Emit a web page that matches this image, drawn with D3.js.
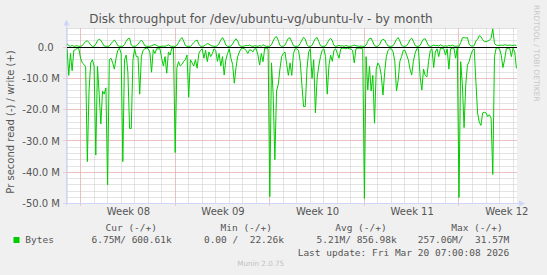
<!DOCTYPE html>
<html>
<head>
<meta charset="utf-8">
<script src="https://cdn.jsdelivr.net/npm/d3@7"></script>
<style>
  body { margin: 0; background: #f0f0f0; }
  svg text { font-family: "DejaVu Sans", sans-serif; fill: #555; }
  svg text.mono { font-family: "DejaVu Sans Mono", monospace; white-space: pre; }
</style>
</head>
<body>
<svg id="chart" width="547" height="275"></svg>
<script>
// samples every 3 hours starting Feb 15 2026 00:00 (UTC), values in millions of bytes/s
const startTime = Date.UTC(2026, 1, 15, 0, 0);
const stepMs = 3 * 3600 * 1000;

// read is drawn negative
const readM = [
  -0.5, -9, -2, -7.5, -1, -0.8, -0.3, -0.5,
  -3.5, -5, -5.5, -6.2, -36.6, -14, -5, -4,
  -6, -34.5, -6, -15, -24.5, -14, -15, -13,
  -44, -4, -3.5, -5, -7, -3.5, -1, -0.3,
  -2, -36.6, -4, -2.5, -8, -26, -26, -4,
  -0.5, -3, -3, -15, -3, -1, -0.5, -0.3,
  -0.5, -1.5, -8, -0.8, -2, -0.5, -0.5, -0.5,
  -3.5, -6, -3, -8.3, -1.5, -2.5, -0.3, -0.3,
  -33.7, -6.7, -4.6, -6, -5.5, -4.5, -4, -2.5,
  -16, -4, -5, -6, -4, -6.7, -2, -1,
  -0.5, -3.5, -1, -4.6, -1.5, -3, -2, -0.5,
  -1, -4.5, -2, -6, -3, -8.9, -4, -2,
  -0.5, -3.5, -5.5, -11.5, -6.5, -3, -1.5, -0.5,
  -0.3, -0.5, -1, -2, -0.8, -1, -1.5, -0.5,
  -0.5, -2.5, -5.7, -2, -4.6, -0.3, -0.3, -0.5,
  -47.8, -5, -15, -36, -14, -12, -7, -3,
  -2, -1.5, -5.5, -9, -5, -9, -2, -0.5,
  -0.5, -1, -4.5, -12, -19, -19, -7, -1.5,
  -0.5, -10, -4, -21, -10, -6, -3, -1,
  -0.5, -3, -15, -6, -2.5, -4.5, -1, -0.5,
  -2, -3.5, -0.5, -0.3, -0.3, -0.5, -0.3, -0.5,
  -0.5, -1, -5, -0.5, -0.3, -0.3, -0.3, -0.5,
  -48.4, -3, -13.7, -6, -14, -9, -24.3, -7,
  -5, -6, -9, -15.3, -8, -3, -1, -0.5,
  -0.5, -1.5, -4.5, -14, -10.5, -4.5, -3, -1,
  -1, -2.5, -4, -7, -8.9, -4.5, -2, -0.5,
  -0.5, -9.5, -13.7, -7, -9, -9.5, -4.5, -1,
  -0.5, -6.5, -1.5, -0.5, -3, -0.3, -0.3, -0.5,
  -2.5, -0.5, -7, -0.5, -0.3, -0.3, -3.5, -0.3,
  -48.1, -4.6, -12, -25.7, -12, -5.7, -4.6, -2.5,
  -1, -0.5, -11, -21, -24, -25, -21, -20.8,
  -21, -22.2, -21.6, -22.7, -40.7, -3, -0.3, -0.2,
  -0.5, -2.5, -6.5, -4, -0.5, -0.3, -0.3, -3,
  -0.3, -1.5, -6.75
];

const writeM = [
  1.2, 0.5, 0.3, 0.6, 0.3, 0.4, 0.5, 0.3,
  0.3, 0.5, 1.3, 1.8, 2.1, 1.5, 0.7, 0.3,
  0.3, 1.0, 2.1, 2.6, 2.2, 1.3, 0.4, 0.3,
  0.3, 0.4, 1.1, 1.8, 2.3, 1.6, 0.5, 0.3,
  0.3, 0.3, 0.9, 1.9, 2.7, 2.9, 0.7, 0.3,
  0.3, 0.4, 1.0, 1.7, 2.3, 1.6, 0.5, 0.3,
  0.3, 0.3, 0.5, 0.7, 0.9, 0.6, 0.3, 0.3,
  0.3, 0.4, 0.3, 0.5, 0.8, 0.4, 0.3, 0.3,
  0.3, 0.6, 1.5, 2.5, 3.1, 2.0, 0.6, 0.3,
  0.3, 0.3, 0.8, 1.5, 2.0, 2.3, 1.0, 0.3,
  0.3, 0.4, 0.8, 1.2, 1.0, 0.6, 0.4, 0.3,
  0.3, 0.5, 1.2, 2.3, 3.1, 2.2, 0.7, 0.3,
  0.3, 0.4, 1.1, 2.0, 2.7, 2.0, 0.6, 0.3,
  0.3, 0.4, 0.6, 0.5, 0.7, 0.4, 0.3, 0.5,
  0.4, 0.3, 0.6, 0.3, 0.8, 0.5, 0.3, 0.3,
  0.3, 0.8, 2.0, 3.1, 3.4, 2.2, 0.6, 0.3,
  0.3, 0.7, 1.8, 2.9, 3.0, 1.8, 0.5, 0.3,
  0.3, 0.4, 1.2, 2.3, 3.2, 2.6, 0.8, 0.3,
  0.3, 0.6, 1.7, 2.8, 3.1, 1.8, 0.5, 0.3,
  0.3, 0.4, 1.3, 2.3, 2.9, 2.1, 0.6, 0.3,
  0.4, 0.6, 0.4, 0.5, 0.3, 0.6, 0.4, 0.3,
  0.3, 0.5, 0.7, 0.5, 0.4, 0.3, 0.4, 0.3,
  0.3, 0.7, 1.9, 2.8, 2.9, 1.7, 0.5, 0.3,
  0.3, 0.9, 2.0, 2.6, 2.3, 1.2, 0.4, 0.3,
  0.3, 0.5, 1.4, 2.5, 3.1, 2.0, 0.6, 0.3,
  0.3, 0.5, 1.3, 2.4, 2.9, 1.9, 0.6, 0.3,
  0.3, 0.6, 1.7, 2.6, 2.7, 1.6, 0.5, 0.3,
  0.4, 0.7, 0.5, 0.6, 0.4, 0.8, 0.5, 0.3,
  0.5, 0.3, 0.6, 0.4, 0.7, 0.4, 0.3, 0.4,
  0.3, 1.5, 3.0, 3.1, 2.9, 3.1, 1.0, 0.4,
  0.4, 0.5, 2.0, 2.6, 3.7, 3.4, 2.4, 1.8,
  1.8, 2.0, 2.2, 2.9, 5.9, 1.2, 0.7, 0.6,
  0.6, 0.7, 0.6, 0.8, 0.7, 0.6, 0.7, 0.6,
  0.6, 0.7, 0.6
];

const yTicks = [0, -10, -20, -30, -40, -50];
const yTickLabels = ['0.0  ', '-10.0 M', '-20.0 M', '-30.0 M', '-40.0 M', '-50.0 M'];
const weekLabels = ['Week 08', 'Week 09', 'Week 10', 'Week 11', 'Week 12'];
const legendHeads = ['Cur (-/+)', 'Min (-/+)', 'Avg (-/+)', 'Max (-/+)'];
const legendValues = ['6.75M/ 600.61k', '0.00 /  22.26k', '5.21M/ 856.98k', '257.06M/  31.57M'];

const svg = d3.select('#chart');
const plotL = 66.5, plotR = 517, plotT = 28.5, plotB = 203.5;
const green = '#00cc00';

const x = d3.scaleUtc()
  .domain([Date.UTC(2026, 1, 14, 23), Date.UTC(2026, 2, 20, 7)])
  .range([plotL, plotR]);
const y = d3.scaleLinear().domain([-50, 6]).range([plotB, plotT]);
const px = (v) => Math.round(v - 0.5) + 0.5;

svg.append('rect').attr('width', 547).attr('height', 275).attr('fill', '#f0f0f0');
svg.append('rect')
  .attr('x', plotL).attr('y', plotT)
  .attr('width', plotR - plotL).attr('height', plotB - plotT)
  .attr('fill', '#fff');

// grid
const grid = svg.append('g').attr('fill', 'none').attr('stroke-dasharray', '1,1');
const days = d3.utcDay.range(x.domain()[0], x.domain()[1]);
const mondays = d3.utcMonday.range(x.domain()[0], x.domain()[1]);
grid.selectAll('.vmin').data(days).join('line')
  .attr('x1', (d) => px(x(d))).attr('x2', (d) => px(x(d)))
  .attr('y1', plotT).attr('y2', plotB)
  .attr('stroke', '#c8c8c8');
grid.selectAll('.hmin').data(d3.range(-50, 7, 2)).join('line')
  .attr('x1', plotL).attr('x2', plotR)
  .attr('y1', (d) => px(y(d))).attr('y2', (d) => px(y(d)))
  .attr('stroke', '#c8c8c8');
grid.selectAll('.vmaj').data(mondays).join('line')
  .attr('x1', (d) => px(x(d))).attr('x2', (d) => px(x(d)))
  .attr('y1', plotT).attr('y2', plotB + 3)
  .attr('stroke', '#f0a0a0');
grid.selectAll('.hmaj').data(yTicks).join('line')
  .attr('x1', plotL - 3).attr('x2', plotR)
  .attr('y1', (d) => px(y(d))).attr('y2', (d) => px(y(d)))
  .attr('stroke', '#f0a0a0');

// data
const line = d3.line()
  .x((d, i) => x(new Date(startTime + i * stepMs)))
  .y((d) => y(d));
svg.append('path').attr('d', line(readM))
  .attr('fill', 'none').attr('stroke', green).attr('stroke-width', 1);
svg.append('path').attr('d', line(writeM))
  .attr('fill', 'none').attr('stroke', green).attr('stroke-width', 1);
svg.append('line')
  .attr('x1', plotL).attr('x2', plotR)
  .attr('y1', px(y(0))).attr('y2', px(y(0)))
  .attr('stroke', '#000');

// axes
const axisColor = '#cfd6f8';
svg.append('line').attr('x1', plotL).attr('x2', plotL).attr('y1', plotB + 2).attr('y2', plotT - 6)
  .attr('stroke', axisColor);
svg.append('path').attr('d', `M${plotL - 3},${plotT - 3}L${plotL + 3},${plotT - 3}L${plotL},${plotT - 9}Z`)
  .attr('fill', axisColor);
svg.append('line').attr('x1', plotL - 3).attr('x2', plotR + 4).attr('y1', plotB).attr('y2', plotB)
  .attr('stroke', axisColor);
svg.append('path').attr('d', `M${plotR + 2},${plotB - 3}L${plotR + 2},${plotB + 3}L${plotR + 8},${plotB}Z`)
  .attr('fill', axisColor);

const yAxis = d3.axisLeft(y).tickValues(yTicks).tickSize(0).tickPadding(0)
  .tickFormat((d, i) => yTickLabels[i]);
const gy = svg.append('g').attr('transform', 'translate(60,0)').call(yAxis);
gy.select('.domain').remove();
gy.selectAll('text').attr('font-size', 10).attr('fill', '#555')
  .style('white-space', 'pre').attr('font-family', '"DejaVu Sans", sans-serif');

const weekMid = mondays.map((d) => d3.utcHour.offset(d, 84));
const xAxis = d3.axisBottom(x).tickValues(weekMid).tickSize(0).tickPadding(0)
  .tickFormat((d, i) => weekLabels[i]);
const gx = svg.append('g').attr('transform', 'translate(0,208)').call(xAxis);
gx.select('.domain').remove();
gx.selectAll('text').attr('font-size', 10).attr('fill', '#555')
  .attr('font-family', '"DejaVu Sans", sans-serif');

// titles
svg.append('text').attr('x', 261).attr('y', 23).attr('text-anchor', 'middle')
  .attr('font-size', 12).text('Disk throughput for /dev/ubuntu-vg/ubuntu-lv - by month');
svg.append('text').attr('transform', 'translate(14,122) rotate(-90)')
  .attr('text-anchor', 'middle').attr('font-size', 10)
  .text('Pr second read (-) / write (+)');
svg.append('text').attr('transform', 'translate(534,5) rotate(90)')
  .attr('font-size', 7.5).style('fill', '#c8c8c8')
  .text('RRDTOOL / TOBI OETIKER');

// legend
const headEnds = [157, 272, 386.7, 502.7];
const valueEnds = [171.7, 284, 396.7, 509.3];
svg.selectAll('.lh').data(legendHeads).join('text')
  .attr('class', 'mono').attr('font-size', 9.5).attr('text-anchor', 'end')
  .attr('x', (d, i) => headEnds[i]).attr('y', 230.5).text((d) => d);
svg.selectAll('.lv').data(legendValues).join('text')
  .attr('class', 'mono').attr('font-size', 9.5).attr('text-anchor', 'end')
  .attr('x', (d, i) => valueEnds[i]).attr('y', 243).text((d) => d);
svg.append('rect').attr('x', 13.5).attr('y', 237).attr('width', 6).attr('height', 6).attr('fill', green);
svg.append('text').attr('class', 'mono').attr('font-size', 9.5)
  .attr('x', 25.3).attr('y', 243).text('Bytes');
svg.append('text').attr('class', 'mono').attr('font-size', 9.5).attr('text-anchor', 'end')
  .attr('x', 509.3).attr('y', 255.5).text('Last update: Fri Mar 20 07:00:08 2026');
svg.append('text').attr('x', 260.7).attr('y', 266).attr('text-anchor', 'middle')
  .attr('font-size', 7.2).style('fill', '#c0c0c0').text('Munin 2.0.75');
</script>
</body>
</html>
